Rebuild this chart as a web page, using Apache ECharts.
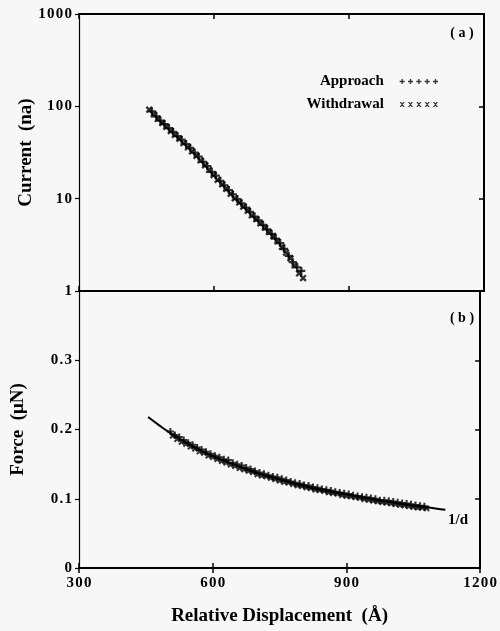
<!DOCTYPE html>
<html>
<head>
<meta charset="utf-8">
<script src="https://cdn.jsdelivr.net/npm/echarts@6/dist/echarts.min.js"></script>
<style>
html, body { margin: 0; padding: 0; background: #f7f7f7; }
#main { width: 500px; height: 631px; }
</style>
</head>
<body>
<div id="main"></div>
<script>
// axis ranges
var xRange = [300, 1200], xStep = 300;
var currentRange = [1, 1000];
var forceRange = [0, 0.4], forceStep = 0.1;

// (a) tunneling current, [displacement, current]
var currentApproach = [
    [462, 88], [472, 78], [481, 70], [490, 64], [500, 58], [509, 53], [519, 47.5], [528, 43.5],
    [538, 39], [547, 35.5], [557, 31.5], [566, 28.5], [576, 25], [585, 22.5], [595, 19.5], [604, 17.8],
    [614, 15.6], [623, 13.9], [633, 12.4], [642, 11.1], [652, 9.9], [661, 8.9], [671, 8.0], [680, 7.2],
    [690, 6.4], [699, 5.8], [709, 5.2], [718, 4.65], [728, 4.15], [737, 3.7], [747, 3.3], [756, 2.85],
    [766, 2.4], [775, 2.05], [785, 1.8], [794, 1.65]
];
var currentWithdrawal = [
    [456, 92], [466, 82], [475, 73], [485, 66], [494, 60], [504, 54], [513, 49], [523, 44.5],
    [532, 40], [542, 36], [551, 32.5], [561, 29], [570, 26], [580, 23], [589, 20.5], [599, 18],
    [608, 16], [618, 14.3], [627, 12.8], [637, 11.3], [646, 10.1], [656, 9.1], [665, 8.2], [675, 7.4],
    [684, 6.6], [694, 6.0], [703, 5.4], [713, 4.85], [722, 4.35], [732, 3.9], [741, 3.45], [751, 3.0],
    [760, 2.6], [770, 2.25], [779, 1.9], [789, 1.55], [798, 1.38]
];

// (b) force, [displacement, force]
var forceApproach = [
    [505, .197], [515, .192], [525, .189], [535, .185], [545, .181], [555, .178], [565, .174], [575, .171],
    [585, .168], [595, .165], [605, .162], [615, .160], [625, .157], [635, .156], [645, .152], [655, .150],
    [665, .148], [675, .145], [685, .143], [695, .140], [705, .138], [715, .136], [725, .134], [735, .132],
    [745, .131], [755, .129], [765, .127], [775, .125], [785, .123], [795, .122], [805, .120], [815, .119],
    [825, .117], [835, .116], [845, .114], [855, .113], [865, .112], [875, .110], [885, .109], [895, .108],
    [905, .107], [915, .105], [925, .104], [935, .103], [945, .102], [955, .101], [965, .100], [975, .098],
    [985, .098], [995, .097], [1005, .096], [1015, .095], [1025, .094], [1035, .093], [1045, .092],
    [1055, .091], [1065, .090], [1075, .089]
];
var forceWithdrawal = [
    [510, .191], [520, .186], [530, .182], [540, .179], [550, .175], [560, .172], [570, .168], [580, .166],
    [590, .162], [600, .160], [610, .157], [620, .154], [630, .152], [640, .149], [650, .147], [660, .144],
    [670, .142], [680, .140], [690, .138], [700, .135], [710, .133], [720, .132], [730, .130], [740, .128],
    [750, .126], [760, .124], [770, .123], [780, .121], [790, .119], [800, .118], [810, .116], [820, .115],
    [830, .113], [840, .112], [850, .111], [860, .109], [870, .108], [880, .107], [890, .105], [900, .104],
    [910, .103], [920, .102], [930, .101], [940, .099], [950, .098], [960, .097], [970, .096], [980, .095],
    [990, .094], [1000, .093], [1010, .092], [1020, .091], [1030, .090], [1040, .089], [1050, .088],
    [1060, .087], [1070, .087], [1080, .086]
];
// 1/d fit curve
var fitLine = [
    [455, .218], [480, .206], [500, .197], [550, .178], [600, .162], [650, .149], [700, .137], [750, .128],
    [800, .119], [850, .112], [900, .106], [950, .100], [1000, .095], [1050, .090], [1100, .086], [1122, .084]
];

var FONT = 'Liberation Serif';
var plusPath = 'path://M2.5,0h2v2.5h2.5v2h-2.5v2.5h-2v-2.5h-2.5v-2h2.5z';
var plusRow = '', crossRow = '';
for (var i = 0; i < 5; i++) {
    var o = i * 9;
    plusRow += 'M' + (o + 2) + ',0h1.4v2h2v1.4h-2v2h-1.4v-2h-2v-1.4h2z';
    crossRow += 'M' + o + ',0L' + (o + 1.5) + ',0L' + (o + 5.4) + ',5.4L' + (o + 3.9) + ',5.4Z' +
        'M' + (o + 3.9) + ',0L' + (o + 5.4) + ',0L' + (o + 1.5) + ',5.4L' + o + ',5.4Z';
}
plusRow = 'path://' + plusRow;
crossRow = 'path://' + crossRow;

// spread digits a little, like the typeset labels
function spaced(s) { return String(s).split('').join('\u200A'); }

var labelStyle = { color: '#000', fontFamily: FONT, fontWeight: 'bold', fontSize: 15 };
var nameStyle = { color: '#000', fontFamily: FONT, fontWeight: 'bold', fontSize: 19 };
var legendText = { color: '#000', fontFamily: FONT, fontWeight: 'bold', fontSize: 15, padding: [0, 9, 0, 0] };

function xAx(grid, pos, withLabels) {
    return {
        type: 'value', gridIndex: grid, position: pos,
        min: xRange[0], max: xRange[1], interval: xStep,
        axisLine: { lineStyle: { color: '#000', width: 2 } },
        axisTick: { inside: true, length: 5, lineStyle: { color: '#000', width: 1.5 } },
        axisLabel: withLabels ? Object.assign({ margin: 8, showMinLabel: true, showMaxLabel: true,
            formatter: function (v) { return spaced(v); } }, labelStyle) : { show: false },
        splitLine: { show: false }
    };
}

var chart = echarts.init(document.getElementById('main'));
var xAxes = [xAx(0, 'bottom', false), xAx(0, 'top', false), xAx(1, 'bottom', true), xAx(1, 'top', false)];
xAxes[2].name = 'Relative Displacement  (\u00c5)';
xAxes[2].nameLocation = 'middle';
xAxes[2].nameGap = 39;
xAxes[2].nameTextStyle = nameStyle;

chart.setOption({
    backgroundColor: '#f7f7f7',
    animation: false,
    grid: [
        { left: 79, right: 16, top: 14, height: 277 },
        { left: 79, right: 16, top: 291, height: 277 }
    ],
    legend: [
        { data: [{ name: 'Approach', icon: plusRow }], right: 57, top: 69, itemWidth: 42, itemHeight: 5,
          textStyle: legendText, align: 'right', selectedMode: false },
        { data: [{ name: 'Withdrawal', icon: crossRow }], right: 57, top: 92, itemWidth: 42, itemHeight: 5,
          textStyle: legendText, align: 'right', selectedMode: false }
    ],
    xAxis: xAxes,
    yAxis: [
        {
            type: 'log', gridIndex: 0, logBase: 10, min: currentRange[0], max: currentRange[1],
            name: 'Current  (na)', nameLocation: 'middle', nameGap: 43, nameMoveOverlap: false, nameTextStyle: nameStyle,
            axisLine: { lineStyle: { color: '#000', width: 1.2 } },
            axisTick: { inside: false, length: 4, lineStyle: { color: '#000', width: 1.2 } },
            axisLabel: Object.assign({ margin: 7, showMinLabel: true, showMaxLabel: true,
                formatter: function (v) { return spaced(Math.round(v)); } }, labelStyle),
            splitLine: { show: false }, minorTick: { show: false }
        },
        {
            type: 'log', gridIndex: 0, logBase: 10, min: currentRange[0], max: currentRange[1], position: 'right',
            axisLine: { lineStyle: { color: '#000', width: 2 } },
            axisTick: { inside: true, length: 5, lineStyle: { color: '#000', width: 1.5 } },
            axisLabel: { show: false }, splitLine: { show: false }
        },
        {
            type: 'value', gridIndex: 1, min: forceRange[0], max: forceRange[1], interval: forceStep,
            name: 'Force  (\u03bcN)', nameLocation: 'middle', nameGap: 51, nameMoveOverlap: false, nameTextStyle: nameStyle,
            axisLine: { lineStyle: { color: '#000', width: 1.2 } },
            axisTick: { inside: false, length: 4, lineStyle: { color: '#000', width: 1.2 } },
            axisLabel: Object.assign({ margin: 7, showMaxLabel: false,
                formatter: function (v) { return v > 0.35 ? '' : (v === 0 ? '0' : spaced(v.toFixed(1))); } }, labelStyle),
            splitLine: { show: false }
        },
        {
            type: 'value', gridIndex: 1, min: forceRange[0], max: forceRange[1], interval: forceStep, position: 'right',
            axisLine: { lineStyle: { color: '#000', width: 2 } },
            axisTick: { inside: true, length: 5, lineStyle: { color: '#000', width: 1.5 } },
            axisLabel: { show: false }, splitLine: { show: false }
        }
    ],
    series: [
        { name: 'Approach', type: 'scatter', xAxisIndex: 0, yAxisIndex: 0, data: currentApproach,
          symbol: plusPath, symbolSize: 8, itemStyle: { color: '#000' } },
        { name: 'Withdrawal', type: 'scatter', xAxisIndex: 0, yAxisIndex: 0, data: currentWithdrawal,
          symbol: plusPath, symbolRotate: 45, symbolSize: 8, itemStyle: { color: '#000' } },
        { name: '1/d', type: 'line', xAxisIndex: 2, yAxisIndex: 2, data: fitLine, smooth: true,
          showSymbol: false, lineStyle: { color: '#000', width: 2 } },
        { name: 'Approach', type: 'scatter', xAxisIndex: 2, yAxisIndex: 2, data: forceApproach,
          symbol: plusPath, symbolSize: 7, itemStyle: { color: '#000' } },
        { name: 'Withdrawal', type: 'scatter', xAxisIndex: 2, yAxisIndex: 2, data: forceWithdrawal,
          symbol: plusPath, symbolRotate: 45, symbolSize: 7, itemStyle: { color: '#000' } }
    ],
    graphic: [
        { type: 'text', x: 462, y: 33, style: { text: '( a )', fill: '#000', font: 'bold 14px "Liberation Serif"', align: 'center', verticalAlign: 'middle' } },
        { type: 'text', x: 462, y: 318, style: { text: '( b )', fill: '#000', font: 'bold 14px "Liberation Serif"', align: 'center', verticalAlign: 'middle' } },
        { type: 'text', x: 458, y: 520, style: { text: '1/d', fill: '#000', font: 'bold 15px "Liberation Serif"', align: 'center', verticalAlign: 'middle' } }
    ]
});
</script>
</body>
</html>
